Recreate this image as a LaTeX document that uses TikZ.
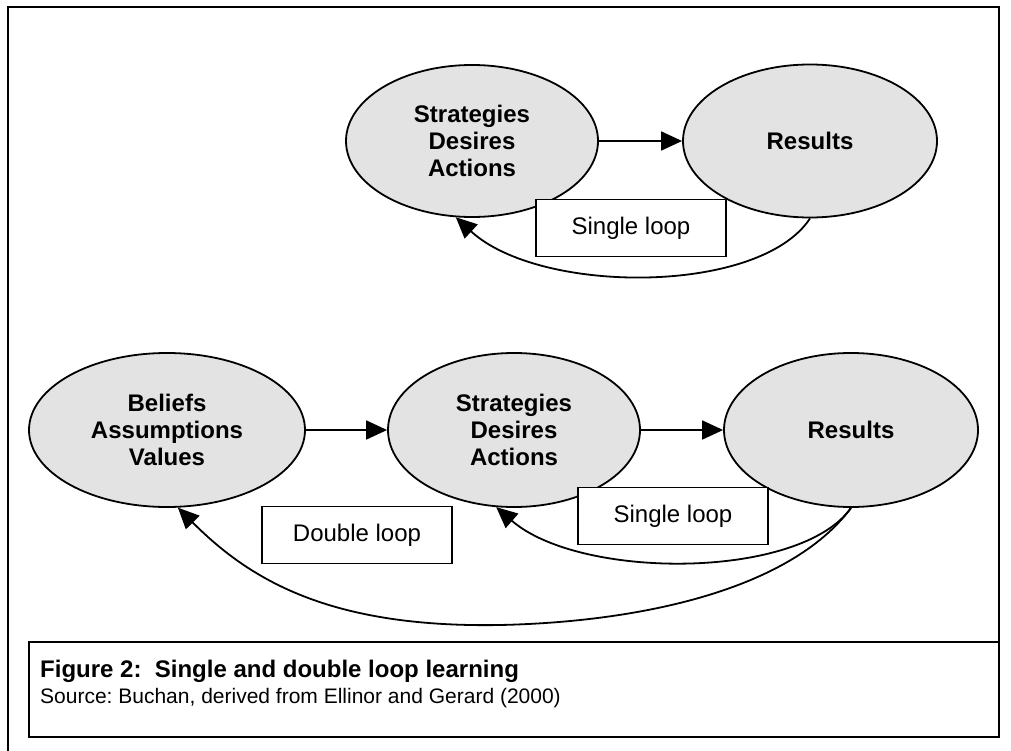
\documentclass[tikz,border=0pt]{standalone}
\usepackage{fontspec}
\setmainfont{Liberation Sans}
\usetikzlibrary{shapes.geometric,arrows.meta}
\frenchspacing

\begin{document}
\begin{tikzpicture}[x=1pt,y=-1pt,
    font=\fontsize{24}{27}\selectfont,
    blob/.style={ellipse, draw, line width=1.8pt, fill=gray!22, inner sep=0pt,
        align=center, font=\fontsize{24}{27}\selectfont\bfseries},
    loopbox/.style={draw, line width=1.8pt, fill=white, inner sep=0pt,
        minimum width=190pt, minimum height=57pt},
    link/.style={line width=1.8pt, -{Triangle[length=21pt,width=19pt]}}
    ]
    \useasboundingbox (0,0) rectangle (1011,751);

    % frame
    \draw[line width=1.8pt] (8,751) -- (8,7) -- (999,7) -- (999,642);

    % single loop
    \node[blob, minimum width=252pt, minimum height=152pt] (strat1) at (472,141) {Strategies\\Desires\\Actions};
    \node[blob, minimum width=254pt, minimum height=153pt] (res1) at (810,141) {Results};
    \draw[link] (strat1) -- (res1);
    \draw[link] (res1.south) .. controls (760,295) and (540,295) .. (strat1.258);

    % double loop
    \node[blob, minimum width=276pt, minimum height=154pt] (bel) at (167,430) {Beliefs\\Assumptions\\Values};
    \node[blob, minimum width=252pt, minimum height=154pt] (strat2) at (514,430) {Strategies\\Desires\\Actions};
    \node[blob, minimum width=254pt, minimum height=154pt] (res2) at (851,430) {Results};
    \draw[link] (bel) -- (strat2);
    \draw[link] (strat2) -- (res2);
    \coordinate (dip) at (500,625);
    \draw[link] (res2.south) .. controls (800,580) and (580,580) .. (strat2.257);
    \draw[link] (res2.south) .. controls (790,590) and (640,622) .. (dip)
        .. controls (330,628) and (250,580) .. (bel.278);

    \node[loopbox] (single1) at (631,228) {Single loop};
    \node[loopbox] (single2) at (673,516) {Single loop};
    \node[loopbox] (double) at (357,535) {Double loop};

    % caption
    \node[draw, line width=1.8pt, minimum width=970pt, minimum height=95pt, inner sep=0pt] (capbox) at (514,689.5) {};
    \node[anchor=base west, inner sep=0pt] (figtitle) at (40,677) {\bfseries Figure 2:~ Single and double loop learning};
    \node[anchor=base west, inner sep=0pt, font=\fontsize{21}{25}\selectfont] (figsrc) at (40,703) {Source: Buchan, derived from Ellinor and Gerard (2000)};
    %
\end{tikzpicture}
\end{document}
